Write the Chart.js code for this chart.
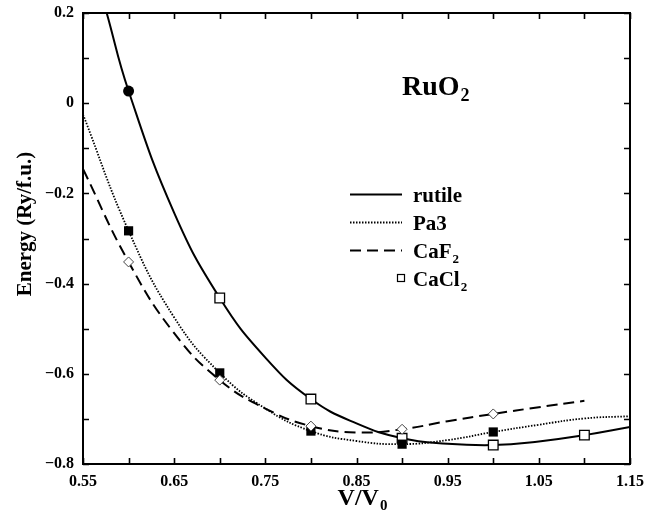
<!DOCTYPE html>
<html>
<head>
<meta charset="utf-8">
<script src="https://cdn.jsdelivr.net/npm/chart.js@4"></script>
<style>
  html, body { margin: 0; padding: 0; background: #fff; }
  #c { display: block; }
</style>
</head>
<body>
<canvas id="c" width="645" height="514"></canvas>
<script>
// Total energy of RuO2 phases versus relative volume V/V0 (Ry per formula unit)

// Fitted energy-volume curves
const rutileCurveV = [0.576, 0.60, 0.65, 0.70, 0.75, 0.80, 0.85, 0.90, 0.95, 1.00, 1.05, 1.10, 1.15];
const rutileCurveE = [0.200, 0.027, -0.243, -0.432, -0.564, -0.656, -0.710, -0.743, -0.755, -0.758, -0.750, -0.736, -0.718];

const pa3CurveV = [0.55, 0.60, 0.65, 0.70, 0.75, 0.80, 0.85, 0.90, 0.95, 1.00, 1.05, 1.10, 1.15];
const pa3CurveE = [-0.025, -0.283, -0.475, -0.598, -0.677, -0.727, -0.749, -0.756, -0.747, -0.729, -0.713, -0.699, -0.694];

const caf2CurveV = [0.55, 0.60, 0.65, 0.70, 0.75, 0.80, 0.85, 0.90, 0.95, 1.00, 1.05, 1.10];
const caf2CurveE = [-0.146, -0.352, -0.510, -0.614, -0.677, -0.716, -0.730, -0.723, -0.705, -0.689, -0.674, -0.660];

// Computed points
const rutilePointV = [0.60];
const rutilePointE = [0.027];

const cacl2PointV = [0.70, 0.80, 0.90, 1.00, 1.10];
const cacl2PointE = [-0.432, -0.656, -0.743, -0.758, -0.736];

const pa3PointV = [0.60, 0.70, 0.80, 0.90, 1.00];
const pa3PointE = [-0.283, -0.598, -0.727, -0.756, -0.729];

const caf2PointV = [0.60, 0.70, 0.80, 0.90, 1.00];
const caf2PointE = [-0.352, -0.614, -0.716, -0.723, -0.689];

// Axis ranges and labelled ticks
const xRange = [0.55, 1.15];
const yRange = [-0.8, 0.2];
const xTickLabels = ['0.55', '0.65', '0.75', '0.85', '0.95', '1.05', '1.15'];
const yTickLabels = ['\u22120.8', '\u22120.6', '\u22120.4', '\u22120.2', '0', '0.2'];

const SERIF = '"Liberation Serif", "Times New Roman", serif';
const pairs = (xs, ys) => xs.map((v, i) => ({ x: v, y: ys[i] }));

// Frame, inward ticks on all four sides, titles, label and legend
const decorations = {
  id: 'decorations',
  afterDatasetsDraw(chart) {
    const ctx = chart.ctx;
    const a = chart.chartArea;
    const xs = chart.scales.x, ys = chart.scales.y;
    ctx.save();
    ctx.strokeStyle = '#000';
    ctx.lineWidth = 2;
    ctx.strokeRect(a.left, a.top, a.right - a.left, a.bottom - a.top);

    const tl = 6;
    ctx.lineWidth = 1.6;
    ctx.beginPath();
    xs.ticks.forEach(t => {
      const p = Math.round(xs.getPixelForValue(t.value)) + 0.5;
      ctx.moveTo(p, a.bottom); ctx.lineTo(p, a.bottom - tl);
      ctx.moveTo(p, a.top); ctx.lineTo(p, a.top + tl);
    });
    ys.ticks.forEach(t => {
      const p = Math.round(ys.getPixelForValue(t.value)) + 0.5;
      ctx.moveTo(a.left, p); ctx.lineTo(a.left + tl, p);
      ctx.moveTo(a.right, p); ctx.lineTo(a.right - tl, p);
    });
    ctx.stroke();

    ctx.fillStyle = '#000';
    ctx.textBaseline = 'alphabetic';

    // y-axis title
    ctx.save();
    ctx.translate(31, 224);
    ctx.rotate(-Math.PI / 2);
    ctx.font = 'bold 21px ' + SERIF;
    ctx.textAlign = 'center';
    ctx.fillText('Energy (Ry/f.u.)', 0, 0);
    ctx.restore();

    // text with a subscript
    const drawSub = (main, sub, x, y, size, subSize, drop, align) => {
      ctx.font = 'bold ' + size + 'px ' + SERIF;
      const w1 = ctx.measureText(main).width;
      ctx.font = 'bold ' + subSize + 'px ' + SERIF;
      const w2 = ctx.measureText(sub).width;
      const x0 = align === 'center' ? x - (w1 + w2) / 2 : x;
      ctx.textAlign = 'left';
      ctx.font = 'bold ' + size + 'px ' + SERIF;
      ctx.fillText(main, x0, y);
      ctx.font = 'bold ' + subSize + 'px ' + SERIF;
      ctx.fillText(sub, x0 + w1 + 1, y + drop);
    };
    drawSub('V/V', '0', 362, 505, 24, 15, 5, 'center');

    // compound label
    drawSub('RuO', '2', 402, 95, 28, 18, 6, 'left');

    // legend
    const lx0 = 350, lx1 = 402, tx = 413;
    ctx.strokeStyle = '#000';
    ctx.lineWidth = 2;
    ctx.setLineDash([]);
    ctx.beginPath(); ctx.moveTo(lx0, 194.5); ctx.lineTo(lx1, 194.5); ctx.stroke();
    ctx.lineWidth = 1.8;
    ctx.setLineDash([1.5, 1.5]);
    ctx.beginPath(); ctx.moveTo(lx0, 222.5); ctx.lineTo(lx1, 222.5); ctx.stroke();
    ctx.lineWidth = 2;
    ctx.setLineDash([11, 6]);
    ctx.beginPath(); ctx.moveTo(lx0, 250.5); ctx.lineTo(lx1, 250.5); ctx.stroke();
    ctx.setLineDash([]);
    ctx.lineWidth = 1.2;
    ctx.fillStyle = '#fff';
    ctx.fillRect(397.5, 274.5, 7, 7);
    ctx.strokeRect(397.5, 274.5, 7, 7);
    ctx.fillStyle = '#000';
    ctx.font = 'bold 21px ' + SERIF;
    ctx.textAlign = 'left';
    ctx.fillText('rutile', tx, 202);
    ctx.fillText('Pa3', tx, 230);
    drawSub('CaF', '2', tx, 258, 21, 13, 5, 'left');
    drawSub('CaCl', '2', tx, 286, 21, 13, 5, 'left');
    ctx.restore();
  }
};

const curve = (data, extra) => Object.assign({
  data, showLine: true, pointRadius: 0, borderColor: '#000', backgroundColor: '#000',
  borderWidth: 2, tension: 0.45, fill: false, order: 2
}, extra);

const marks = (data, extra) => Object.assign({
  data, showLine: false, borderColor: '#000', order: 1
}, extra);

new Chart(document.getElementById('c'), {
  type: 'scatter',
  data: {
    datasets: [
      curve(pairs(rutileCurveV, rutileCurveE), { label: 'rutile' }),
      curve(pairs(pa3CurveV, pa3CurveE), { label: 'Pa3', borderWidth: 1.8, borderDash: [1.5, 1.5] }),
      curve(pairs(caf2CurveV, caf2CurveE), { label: 'CaF2', borderDash: [11, 6] }),
      marks(pairs(caf2PointV, caf2PointE), { label: 'CaF2 points', pointStyle: 'rectRot', pointRadius: 5, borderWidth: 1, borderColor: '#444', backgroundColor: '#fff' }),
      marks(pairs(pa3PointV, pa3PointE), { label: 'Pa3 points', pointStyle: 'rect', pointRadius: 6.5, borderWidth: 0, backgroundColor: '#000' }),
      marks(pairs(cacl2PointV, cacl2PointE), { label: 'CaCl2', pointStyle: 'rect', pointRadius: 6.8, borderWidth: 1.3, backgroundColor: '#fff' }),
      marks(pairs(rutilePointV, rutilePointE), { label: 'rutile point', pointStyle: 'circle', pointRadius: 5.5, borderWidth: 0, backgroundColor: '#000' })
    ]
  },
  options: {
    responsive: false,
    animation: false,
    events: [],
    layout: { padding: { left: 0, top: 13, right: 15, bottom: 0 } },
    plugins: { legend: { display: false }, tooltip: { enabled: false } },
    scales: {
      x: {
        type: 'linear', min: xRange[0], max: xRange[1],
        afterFit(s) { s.height = 50; s.paddingLeft = 0; s.paddingRight = 0; },
        grid: { display: false, drawTicks: false },
        border: { display: false },
        ticks: {
          stepSize: 0.05, autoSkip: false, maxRotation: 0, padding: 8,
          color: '#000', font: { family: SERIF, size: 16, weight: 'bold' },
          callback(v) {
            const k = Math.round((v - xRange[0]) / 0.05);
            return k % 2 === 0 ? xTickLabels[k / 2] : '';
          }
        }
      },
      y: {
        type: 'linear', min: yRange[0], max: yRange[1],
        afterFit(s) { s.width = 83; s.paddingTop = 0; s.paddingBottom = 0; },
        grid: { display: false, drawTicks: false },
        border: { display: false },
        ticks: {
          stepSize: 0.1, autoSkip: false, padding: 9,
          color: '#000', font: { family: SERIF, size: 16, weight: 'bold' },
          callback(v) {
            const k = Math.round((v - yRange[0]) / 0.1);
            return k % 2 === 0 ? yTickLabels[k / 2] : '';
          }
        }
      }
    }
  },
  plugins: [decorations]
});
</script>
</body>
</html>
